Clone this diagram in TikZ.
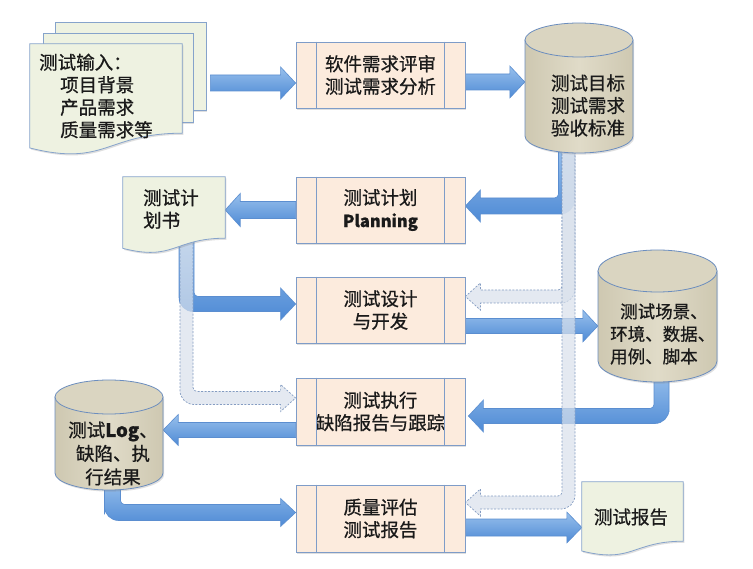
\documentclass[tikz,border=0pt]{standalone}
\usepackage{fontspec}
\setmainfont{Noto Sans CJK SC}[FakeBold=0.7]
\usetikzlibrary{calc,shadows}
\pgfdeclarelayer{bg}
\pgfsetlayers{bg,main}
\definecolor{boxfill}{HTML}{FCEBDD}
\definecolor{boxline}{HTML}{7E9CC8}
\definecolor{docfill}{HTML}{EEF2E1}
\definecolor{docline}{HTML}{86A3CB}
\definecolor{cylfill}{HTML}{E0DBC8}
\definecolor{cyldark}{HTML}{CEC8B1}
\definecolor{cyltopc}{HTML}{DAD5C1}
\definecolor{cylline}{HTML}{6B8DBE}
\definecolor{arrtop}{HTML}{98C0EC}
\definecolor{arrbot}{HTML}{4E8AD5}
\definecolor{arrline}{HTML}{5B8ED0}
\definecolor{faintfill}{HTML}{D9E1EC}
\definecolor{faintline}{HTML}{7F98BF}
\definecolor{txt}{HTML}{1A1A1A}

% horizontal block arrow: #2 start (its y is used), #3 end (its x is the tip), #4 body half, #5 head half
\newcommand\harrow[5][]{%
 \path[#1] let \p1=(#2), \p2=(#3), \n1={ifthenelse(\x2>\x1,1,-1)} in
  (\x1,{\y1+#4}) -- ({\x2-(\n1)*15pt},{\y1+#4}) -- ({\x2-(\n1)*15pt},{\y1+#5})
  -- (\x2,\y1) -- ({\x2-(\n1)*15pt},{\y1-#5}) -- ({\x2-(\n1)*15pt},{\y1-#4})
  -- (\x1,{\y1-#4}) -- cycle;}

% bent block arrow: down from #2 (x = centre of the vertical), then sideways to tip #3
\newcommand\bentarrow[5][]{%
 \path[#1] let \p1=(#2), \p2=(#3), \n1={ifthenelse(\x2>\x1,1,-1)} in
  ({\x1+(\n1)*#4},\y1) [rounded corners=4pt]
  -- ({\x1+(\n1)*#4},{\y2+#4})
  -- ({(\x1+(\n1)*#4+\x2-(\n1)*15pt)/2},{\y2+#4}) [sharp corners]
  -- ({\x2-(\n1)*15pt},{\y2+#4})
  -- ({\x2-(\n1)*15pt},{\y2+#5})
  -- (\x2,\y2)
  -- ({\x2-(\n1)*15pt},{\y2-#5})
  -- ({\x2-(\n1)*15pt},{\y2-#4})
  -- ({(\x2-(\n1)*15pt+\x1-(\n1)*#4)/2},{\y2-#4}) [rounded corners=14pt]
  -- ({\x1-(\n1)*#4},{\y2-#4})
  -- ({\x1-(\n1)*#4},{(\y2-#4+\y1)/2}) [sharp corners]
  -- ({\x1-(\n1)*#4},\y1) -- cycle;}

% document with wavy bottom over node #2
\newcommand\docpath[2][]{%
 \path[#1] let \p1=(#2.north west), \p2=(#2.south east), \n1={(\y1-\y2)} in
  (\x1,\y1) -- (\x2,\y1) -- (\x2,\y2)
  .. controls ({(\x1+\x2)/2},\y2) and ({(\x1+\x2)/2},{\y2-0.38*\n1*1pt})
  .. (\x1,{\y2-0.165*\n1*1pt}) -- cycle;}

% cylinder: #1 name, #2 x1, #3 x2, #4 top, #5 bottom, #6 ry
\newcommand\cyl[6]{%
 \pgfmathsetmacro\cyCx{(#2+#3)/2}\pgfmathsetmacro\cyRx{(#3-#2)/2}%
 \pgfmathsetmacro\cyTc{#4+#6}\pgfmathsetmacro\cyBc{#5-#6}%
 \pgfmathsetmacro\cyKa{0.5523*#6}\pgfmathsetmacro\cyKb{0.5523*\cyRx}%
 \path[cylbody] (#2,\cyTc) -- (#2,\cyBc)
   .. controls (#2,{\cyBc+\cyKa}) and ({\cyCx-\cyKb},#5) .. (\cyCx,#5)
   .. controls ({\cyCx+\cyKb},#5) and (#3,{\cyBc+\cyKa}) .. (#3,\cyBc)
   -- (#3,\cyTc) -- cycle;
 \path[cyltop] (\cyCx,\cyTc) ellipse [x radius=\cyRx, y radius=#6];
 \node[inner sep=0, minimum width={#3-#2}, minimum height={#5-#4}] (#1) at (\cyCx,{(#4+#5)/2}) {};}

\begin{document}
\begin{tikzpicture}[x=1pt,y=-1pt,
  every node/.style={text=txt, font=\fontsize{18.5}{22.5}\selectfont},
  softshadow/.style={drop shadow={shadow xshift=1.2pt, shadow yshift=-1.6pt, opacity=0.25}},
  procbox/.style={draw=boxline, fill=boxfill, line width=0.8pt, minimum width=169,
    minimum height=66, inner sep=0, align=center, softshadow},
  docrect/.style={draw=docline, fill=docfill, line width=0.8pt, inner sep=0, softshadow},
  docshape/.style={draw=docline, fill=docfill, line width=0.8pt, softshadow},
  cylbody/.style={left color=cyldark, right color=cyldark, middle color=cylfill,
    draw=cylline, line width=0.8pt, softshadow},
  cyltop/.style={fill=cyltopc, draw=cylline, line width=0.8pt},
  solidarr/.style={top color=arrtop, bottom color=arrbot, draw=arrline, line width=0.6pt},
  faintarr/.style={fill=faintfill, fill opacity=0.7, draw=faintline, draw opacity=0.95,
    dashed, dash pattern=on 2pt off 1.5pt, line width=0.7pt},
  inner/.style={draw=boxline, line width=0.8pt}]

\useasboundingbox (0,0) rectangle (753,569);

% ---- process boxes
\node[procbox] (b1) at (380.5,75) {软件需求评审\\测试需求分析};
\node[procbox] (b2) at (380.5,210) {测试计划\\{\fontsize{16.5}{22}\selectfont\bfseries Planning}};
\node[procbox] (b3) at (380.5,310) {测试设计\\与开发};
\node[procbox, minimum height=67] (b4) at (380.5,411.5) {测试执行\\缺陷报告与跟踪};
\node[procbox, minimum height=67] (b5) at (380.5,518.5) {质量评估\\测试报告};
\foreach \b in {b1,b2,b3,b4,b5}{
  \draw[inner] ([xshift=21pt]\b.north west) -- ([xshift=21pt]\b.south west);
  \draw[inner] ([xshift=-21pt]\b.north east) -- ([xshift=-21pt]\b.south east);
}

% ---- documents
\node[docrect, minimum width=151, minimum height=88] (in3) at (130.5,66) {};
\node[docrect, minimum width=150, minimum height=89] (in2) at (118,77.5) {};
\node[inner sep=0, minimum width=152, minimum height=89] (in1) at (106,88.5) {};
\docpath[docshape]{in1}
\node[anchor=west, align=left, inner sep=0] (in1t) at (39,96)
  {测试输入：\\\hspace*{21pt}项目背景\\\hspace*{21pt}产品需求\\\hspace*{21pt}质量需求等};

\node[inner sep=0, minimum width=102, minimum height=61] (d2) at (174,207.5) {};
\docpath[docshape]{d2}
\node[anchor=west, align=left, inner sep=0] (d2t) at (143,209) {测试计\\划书};

\node[inner sep=0, minimum width=101, minimum height=59] (d4) at (632.5,511.5) {};
\docpath[docshape]{d4}
\node[inner sep=0] (d4t) at (631,517) {测试报告};

% ---- cylinders
\cyl{c1}{525}{633}{23}{153}{17}
\node[align=center, inner sep=0] (c1t) at (588,105.5) {测试目标\\测试需求\\验收标准};
\cyl{c2}{598}{717}{250}{382}{21}
\node[anchor=west, align=left, inner sep=0, font=\fontsize{17.5}{22.5}\selectfont] (c2t) at (610,334)
  {\hspace*{10pt}测试场景、\\环境、数据、\\用例、脚本};
\cyl{c3}{55}{163}{380}{490}{17}
\node[align=center, inner sep=0, font=\fontsize{18.5}{23.5}\selectfont] (c3t) at (113,453.5)
  {测试{\bfseries Log}、\\缺陷、执\\行结果};

% ---- connector end points
\coordinate (a1s) at ($(in3.east |- b1.west)+(4,8)$);
\coordinate (a2s) at ([yshift=-7pt]b1.east);
\coordinate (a3s) at ([xshift=-12.5pt,yshift=10pt]c1.south);
\coordinate (a3e) at ([yshift=4pt]b2.east);
\coordinate (a5s) at ([xshift=12.5pt,yshift=5pt]d2.south);
\coordinate (a5e) at ([yshift=6pt]b3.west);
\coordinate (a6s) at ([yshift=-16pt]b3.east);
\coordinate (a7s) at ([xshift=4pt,yshift=10pt]c2.south);
\coordinate (a7e) at ([xshift=3pt,yshift=-4.5pt]b4.east);
\coordinate (a8s) at ([yshift=-18.5pt]b4.west);
\coordinate (a9s) at ([xshift=3.5pt,yshift=10pt]c3.south);
\coordinate (a9e) at ([yshift=6pt]b5.west);
\coordinate (a10s) at ([yshift=-9pt]b5.east);
\coordinate (f1s) at ([xshift=-10.5pt,yshift=10pt]c1.south);
\coordinate (f1e) at ([yshift=13.5pt]b3.east);
\coordinate (f2e) at ([yshift=16pt]b5.east);
\coordinate (f3e) at ([yshift=13.5pt]b4.west);

\begin{pgfonlayer}{bg}
\fill[white] (0,0) rectangle (753,569);
% solid arrows
\harrow[solidarr]{a1s}{b1.west}{8pt}{16pt}
\harrow[solidarr]{a2s}{c1.west}{8pt}{16pt}
\bentarrow[solidarr]{a3s}{a3e}{8pt}{16pt}
\harrow[solidarr]{b2.west}{d2.east}{8.5pt}{16.5pt}
\bentarrow[solidarr]{a5s}{a5e}{7.5pt}{16pt}
\harrow[solidarr]{a6s}{c2.west}{7.5pt}{16pt}
\bentarrow[solidarr]{a7s}{a7e}{7.5pt}{16pt}
\harrow[solidarr]{a8s}{c3.east}{7.5pt}{15.5pt}
\bentarrow[solidarr]{a9s}{a9e}{8pt}{14pt}
\harrow[solidarr]{a10s}{d4.west}{8.5pt}{15.5pt}
% faint dashed arrows
\bentarrow[faintarr]{f1s}{f1e}{6.5pt}{13.5pt}
\bentarrow[faintarr]{f1s}{f2e}{6.5pt}{13.5pt}
\bentarrow[faintarr]{a5s}{f3e}{6.5pt}{13.5pt}
\end{pgfonlayer}
\end{tikzpicture}
\end{document}
